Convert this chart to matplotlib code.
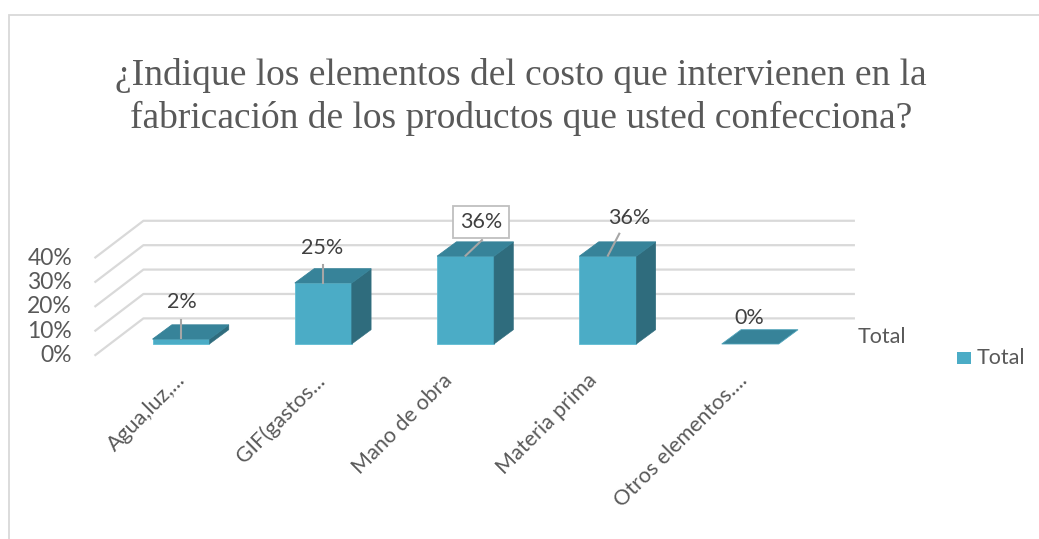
import matplotlib
matplotlib.use("Agg")
import matplotlib.pyplot as plt
from matplotlib.patches import Polygon, Rectangle

# --- data -------------------------------------------------------------
categories = ["Agua,luz,...", "GIF(gastos...", "Mano de obra",
              "Materia prima", "Otros elementos...."]
values = [2, 25, 36, 36, 0]            # percent
value_labels = ["2%", "25%", "36%", "36%", "0%"]
y_ticks = [0, 10, 20, 30, 40]
y_tick_labels = ["0%", "10%", "20%", "30%", "40%"]
series_name = "Total"
title = ("¿Indique los elementos del costo que intervienen en la\n"
         "fabricación de los productos que usted confecciona?")

# --- style ------------------------------------------------------------
FRONT = "#4BACC6"
TOP = "#378399"
SIDE = "#2F6C7D"
GRID = "#D9D9D9"
TEXT = "#595959"
SANS = ["Lato", "DejaVu Sans"]
SERIF = ["Liberation Serif", "DejaVu Serif"]

W, H = 1039, 539
fig = plt.figure(figsize=(W / 100, H / 100), dpi=100)
ax = fig.add_axes([0, 0, 1, 1])
ax.axis("off")

# axes in (category, percent) units; 0% of the bar-front plane near y=344 px
PX_PER_CAT = 142.3
PX_PER_PCT = 2.44
X0_PX, Y0_PX = 181.0, 344.0
ax.set_xlim(-X0_PX / PX_PER_CAT, (W - X0_PX) / PX_PER_CAT)
ax.set_ylim((Y0_PX - H) / PX_PER_PCT, Y0_PX / PX_PER_PCT)


def px(x, y):
    """pixel position -> data position (for layout of text/frame)"""
    return (x - X0_PX) / PX_PER_CAT, (Y0_PX - y) / PX_PER_PCT


# 3-D geometry (oblique projection)
bar_w = 0.40
ddx, ddy = 0.136, 5.86            # bar depth
fdx, fdy = 0.108, 4.8             # floor front edge -> bar front plane
bdx, bdy = 0.236, 10.5            # bar front plane -> back wall
x_left, x_right = -0.5, 4.5

# chart-area frame
fx0, fy0 = px(9, 14.5)
fx1, fy1 = px(W + 5, H + 5)
ax.add_patch(Rectangle((fx0, fy1), fx1 - fx0, fy0 - fy1, fill=False,
                       edgecolor=GRID, lw=1.3, zorder=0))

# gridlines: side wall diagonal + back wall horizontal, with tick labels
lab_x, _ = px(72, 0)
for t, lab in zip(y_ticks, y_tick_labels):
    ax.plot([x_left - fdx, x_left + bdx, x_right + bdx],
            [t - fdy, t + bdy, t + bdy],
            color=GRID, lw=1.6, zorder=1, solid_capstyle="butt")
    ax.text(lab_x, t - fdy, lab, ha="right", va="center",
            fontsize=16.5, color=TEXT, family=SANS)

# bars
for i, v in enumerate(values):
    xl, xr = i - bar_w / 2, i + bar_w / 2
    if v > 0:
        ax.add_patch(Polygon([(xl, 0), (xr, 0), (xr, v), (xl, v)],
                             closed=True, facecolor=FRONT,
                             edgecolor="#5FBCD3", lw=0.6, zorder=3))
        ax.add_patch(Polygon([(xr, 0), (xr + ddx, ddy), (xr + ddx, v + ddy),
                              (xr, v)], closed=True, facecolor=SIDE,
                             edgecolor=SIDE, lw=0.4, zorder=3))
    ax.add_patch(Polygon([(xl, v), (xr, v), (xr + ddx, v + ddy),
                          (xl + ddx, v + ddy)], closed=True, facecolor=TOP,
                         edgecolor="#4FA3BA" if v == 0 else TOP, lw=0.6,
                         zorder=3))

# data labels with leader lines
lab_dx = [0.007, -0.007, 0.108, 0.148, -0.01]
lab_dy = [15.2, 14.3, 14.0, 15.6, 10.7]
lead = [(0.0, 7.8, 0.0, 0.5), (0.0, 7.4, 0.0, 0.0),
        (0.115, 6.6, 0.0, 0.2), (0.08, 9.2, 0.0, 0.2), None]
for i, v in enumerate(values):
    tx, ty = i + lab_dx[i], v + lab_dy[i]
    kw = {}
    if i == 2:
        kw["bbox"] = dict(boxstyle="square,pad=0.3", facecolor="white",
                          edgecolor="#BFBFBF", lw=1.3)
    ax.text(tx, ty, value_labels[i], ha="center", va="center",
            fontsize=15.5, color="#404040", family=SANS, zorder=5, **kw)
    if lead[i] is not None:
        a, b, c, d = lead[i]
        ax.plot([i + a, i + c], [v + b, v + d], color="#A6A6A6", lw=1.5,
                zorder=4)

# category labels (rotated 45 degrees), ending under each bar
cat_shift_px = [-7, -10, -25, -23, -14]
_, cat_y = px(0, 370)
for i, name in enumerate(categories):
    ax.text(i + 0.01 + cat_shift_px[i] / PX_PER_CAT, cat_y, name,
            rotation=45, rotation_mode="anchor", ha="right", va="top",
            fontsize=15.5, color=TEXT, family=SANS)

# series (depth) axis label
sx, sy = px(858, 337)
ax.text(sx, sy, series_name, ha="left", va="center", fontsize=15.5,
        color=TEXT, family=SANS)

# legend
lx0, ly0 = px(957, 364)
lx1, ly1 = px(971, 352)
ax.add_patch(Rectangle((lx0, ly0), lx1 - lx0, ly1 - ly0, facecolor=FRONT,
                       edgecolor="none"))
tx, ty = px(977, 358)
ax.text(tx, ty, series_name, ha="left", va="center", fontsize=15.5,
        color=TEXT, family=SANS)

# title
tx, ty = px(521, 97)
ax.text(tx, ty, title, ha="center", va="center", fontsize=27,
        color=TEXT, family=SERIF, linespacing=1.3)

fig.savefig("out.png", dpi=100)
